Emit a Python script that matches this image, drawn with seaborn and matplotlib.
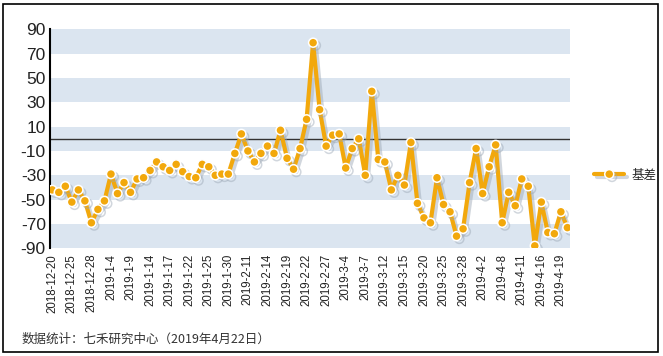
import pandas as pd
import matplotlib.pyplot as plt
import matplotlib.patheffects as pe
from matplotlib.patches import Rectangle
import seaborn as sns

# trading days 2018-12-20 .. 2019-4-22
dates = ['2018-12-20', '2018-12-21', '2018-12-24', '2018-12-25', '2018-12-26', '2018-12-27', '2018-12-28',
         '2019-1-2', '2019-1-3', '2019-1-4', '2019-1-7', '2019-1-8', '2019-1-9', '2019-1-10', '2019-1-11',
         '2019-1-14', '2019-1-15', '2019-1-16', '2019-1-17', '2019-1-18', '2019-1-21', '2019-1-22',
         '2019-1-23', '2019-1-24', '2019-1-25', '2019-1-28', '2019-1-29', '2019-1-30', '2019-1-31',
         '2019-2-1', '2019-2-11', '2019-2-12', '2019-2-13', '2019-2-14', '2019-2-15', '2019-2-18',
         '2019-2-19', '2019-2-20', '2019-2-21', '2019-2-22', '2019-2-25', '2019-2-26', '2019-2-27',
         '2019-2-28', '2019-3-1', '2019-3-4', '2019-3-5', '2019-3-6', '2019-3-7', '2019-3-8',
         '2019-3-11', '2019-3-12', '2019-3-13', '2019-3-14', '2019-3-15', '2019-3-18', '2019-3-19',
         '2019-3-20', '2019-3-21', '2019-3-22', '2019-3-25', '2019-3-26', '2019-3-27', '2019-3-28',
         '2019-3-29', '2019-4-1', '2019-4-2', '2019-4-3', '2019-4-4', '2019-4-8', '2019-4-9',
         '2019-4-10', '2019-4-11', '2019-4-12', '2019-4-15', '2019-4-16', '2019-4-17', '2019-4-18',
         '2019-4-19', '2019-4-22']
basis = [-42, -44, -39, -52, -42, -51, -69, -58, -51, -29,
         -45, -36, -44, -33, -32, -26, -19, -23, -26, -21,
         -27, -31, -32, -21, -23, -30, -29, -29, -12, 4,
         -10, -19, -12, -6, -12, 7, -16, -25, -8, 16,
         79, 24, -6, 3, 4, -24, -8, 0, -30, 39,
         -17, -19, -42, -30, -38, -3, -53, -65, -69, -32,
         -54, -60, -80, -74, -36, -8, -45, -23, -5, -69,
         -44, -55, -33, -39, -88, -52, -77, -78, -60, -73]
yticks = list(range(-90, 91, 20))
shade_bands = [(70, 90), (30, 50), (-10, 10), (-50, -30), (-90, -70)]
series_name = '基差'
footer = '数据统计：七禾研究中心（2019年4月22日）'

df = pd.DataFrame({'date': dates, 'basis': basis})

sns.set_style('white')
plt.rcParams['font.family'] = ['Liberation Sans', 'Noto Sans CJK SC', 'DejaVu Sans']

fig = plt.figure(figsize=(6.63, 3.56), dpi=100)
ax = fig.add_axes([50 / 663, 1 - 248.3 / 356, 520 / 663, 219 / 356])

for lo, hi in shade_bands:
    ax.axhspan(lo, hi, color='#dbe5f0', lw=0, zorder=0)
ax.axhline(0, color='#333333', lw=1.0, zorder=1)

orange = '#f2a80c'
sns.lineplot(data=df, x='date', y='basis', sort=False, ax=ax, color=orange, lw=3.0,
             marker='o', markersize=6.5, markerfacecolor=orange, markeredgecolor='white',
             markeredgewidth=1.1, label=series_name, legend=False, zorder=3,
             path_effects=[pe.SimpleLineShadow(offset=(2, -2), shadow_color='#9aa6b4', alpha=0.45),
                           pe.Normal()])

ax.set_xlim(-0.35, 79.4)
ax.set_ylim(-90, 90)
ax.set_yticks(yticks)
ax.set_yticklabels([str(v) for v in yticks], fontsize=12.5, color='#222222')
ax.set_xticks(list(range(0, len(dates), 3)))
ax.set_xticklabels(dates[::3], rotation=90, fontsize=8.3, color='#222222')
ax.tick_params(axis='x', length=0, pad=4)
ax.tick_params(axis='y', length=0, pad=3)
ax.set_xlabel('')
ax.set_ylabel('')
for s in ['top', 'right', 'bottom']:
    ax.spines[s].set_visible(False)
ax.spines['left'].set_color('black')
ax.spines['left'].set_linewidth(1.5)

h, l = ax.get_legend_handles_labels()
fig.legend(h, l, loc='center left', bbox_to_anchor=(583 / 663, 1 - 175 / 356), frameon=False,
           fontsize=9, handlelength=2.4, handletextpad=0.6,
           prop={'family': ['Noto Sans CJK SC', 'DejaVu Sans'], 'size': 9})

fig.text(22 / 663, 1 - 339 / 356, footer, fontsize=9, color='#333333', va='center',
         family=['Noto Sans CJK SC', 'DejaVu Sans'])

fig.patches.append(Rectangle((3 / 663, 1 - 352 / 356), 655 / 663, 348 / 356, transform=fig.transFigure,
                             fill=False, edgecolor='black', lw=1.2))

fig.savefig('out.png', dpi=100)
